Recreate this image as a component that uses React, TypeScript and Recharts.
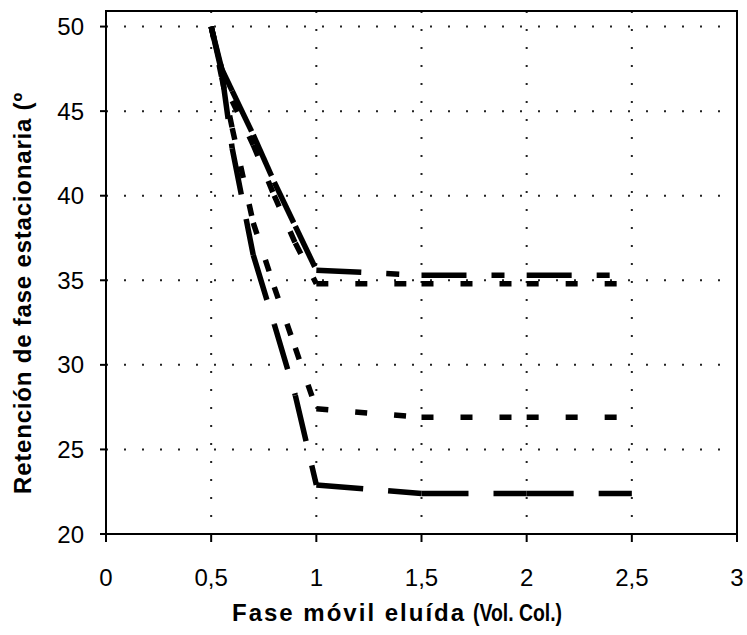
import { LineChart, Line, XAxis, YAxis, CartesianGrid, ReferenceArea } from 'recharts';

// fase móvil eluida (vol. col.)
const volumes = [0.5, 0.55, 0.6, 0.7, 0.8, 0.9, 1, 1.5, 2, 2.5];

// retención de fase estacionaria, one array per curve
const upperLong = [50, 47.5, 46.2, 43.6, 40.8, 38.2, 35.6, 35.3, 35.3, 35.3];
const upperShort = [50, 47.5, 45.6, 43.0, 40.0, 37.2, 34.8, 34.8, 34.8, 34.8];
const lowerShort = [50, 47.0, 44.0, 38.4, 34.6, 31.0, 27.4, 26.9, 26.9, 26.9];
const lowerLong = [50, 47.3, 42.8, 36.5, 32.4, 28.2, 22.9, 22.4, 22.4, 22.4];

const xTicks = [0, 0.5, 1, 1.5, 2, 2.5, 3];
const yTicks = [20, 25, 30, 35, 40, 45, 50];

const series = [
  { name: 'a', values: upperLong, dash: '45 25 13 25' },
  { name: 'b', values: upperShort, dash: '12 27' },
  { name: 'c', values: lowerShort, dash: '12 27' },
  { name: 'd', values: lowerLong, dash: '47 25' },
];

// excel restarts the dash pattern at every point, so each interval is its own line
const segments = series.flatMap((s) =>
  volumes.slice(1).map((v, i) => ({
    id: `${s.name}${i}`,
    dash: s.dash,
    data: [
      { v: volumes[i], y: s.values[i] },
      { v, y: s.values[i + 1] },
    ],
  }))
);

const FONT = "'Liberation Sans', Arial, sans-serif";
const tickStyle = { fill: '#000', fontSize: 24, fontFamily: FONT };

const fmt = (n: number) => String(n).replace('.', ',');

export default function App() {
  return (
    <div style={{ position: 'absolute', left: 0, top: 0, background: '#fff' }}>
      <LineChart width={747} height={635} margin={{ top: 11, right: 10, left: 0, bottom: 0 }}>
        <CartesianGrid stroke="#222" strokeWidth={2} strokeDasharray="2 16" />
        <XAxis
          type="number"
          dataKey="v"
          domain={[0, 3]}
          ticks={xTicks}
          tickFormatter={fmt}
          height={101}
          tick={tickStyle}
          tickSize={8}
          tickMargin={27}
          stroke="#000"
          strokeWidth={2}
          label={{
            content: () => (
              <g fontFamily={FONT} fontWeight="bold" fill="#000">
                <text x={232} y={621} fontSize={24} letterSpacing={2}>
                  Fase móvil eluída
                </text>
                <text x={473} y={621} fontSize={23} textLength={89} lengthAdjust="spacingAndGlyphs">
                  (Vol. Col.)
                </text>
              </g>
            ),
          }}
        />
        <YAxis
          type="number"
          domain={[20, 50.92]}
          ticks={yTicks}
          allowDataOverflow
          width={106}
          tick={tickStyle}
          tickSize={6}
          tickMargin={16}
          stroke="#000"
          strokeWidth={2}
          label={{
            content: () => (
              <text
                x={22}
                y={293}
                transform="rotate(-90 22 293)"
                textAnchor="middle"
                dominantBaseline="central"
                fontFamily={FONT}
                fontWeight="bold"
                fontSize={24}
                letterSpacing={0.8}
                fill="#000"
              >
                Retención de fase estacionaria (º
              </text>
            ),
          }}
        />
        <ReferenceArea x1={0} x2={3} y1={20} y2={50.92} fill="none" stroke="#000" strokeWidth={2} />
        {segments.map((seg) => (
          <Line
            key={seg.id}
            data={seg.data}
            dataKey="y"
            stroke="#000"
            strokeWidth={5.5}
            strokeDasharray={seg.dash}
            dot={false}
            activeDot={false}
            isAnimationActive={false}
          />
        ))}
      </LineChart>
    </div>
  );
}
